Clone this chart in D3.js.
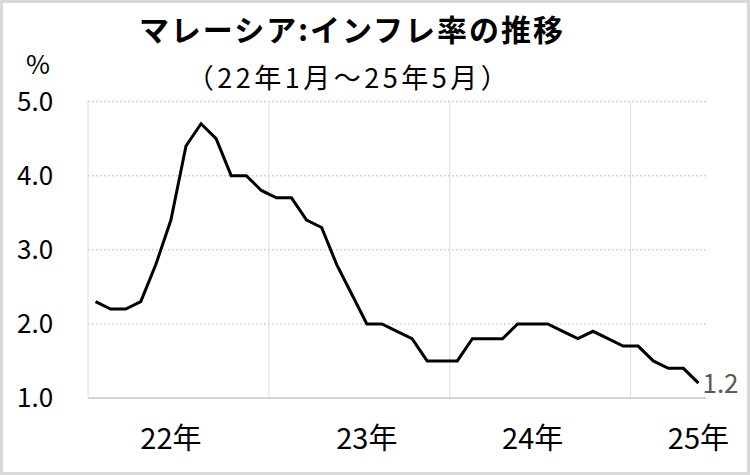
<!DOCTYPE html>
<html>
<head>
<meta charset="utf-8">
<script src="https://cdn.jsdelivr.net/npm/d3@7"></script>
<style>
  html, body { margin: 0; padding: 0; background: #fff; }
  svg { display: block; }
  text { font-family: "Noto Sans CJK JP", "Noto Sans", sans-serif; }
</style>
</head>
<body>
<svg id="chart" width="750" height="475"></svg>
<script>
// ---- Data ----
const months = [
  "2022-01","2022-02","2022-03","2022-04","2022-05","2022-06","2022-07","2022-08","2022-09","2022-10","2022-11","2022-12",
  "2023-01","2023-02","2023-03","2023-04","2023-05","2023-06","2023-07","2023-08","2023-09","2023-10","2023-11","2023-12",
  "2024-01","2024-02","2024-03","2024-04","2024-05","2024-06","2024-07","2024-08","2024-09","2024-10","2024-11","2024-12",
  "2025-01","2025-02","2025-03","2025-04","2025-05"
];
const inflation = [
  2.3,2.2,2.2,2.3,2.8,3.4,4.4,4.7,4.5,4.0,4.0,3.8,
  3.7,3.7,3.4,3.3,2.8,2.4,2.0,2.0,1.9,1.8,1.5,1.5,
  1.5,1.8,1.8,1.8,2.0,2.0,2.0,1.9,1.8,1.9,1.8,1.7,
  1.7,1.5,1.4,1.4,1.2
];
const yTicks = [1.0, 2.0, 3.0, 4.0, 5.0];
const yearBoundaries = ["2023-01","2024-01","2025-01"];
const yearLabelMonths = ["2022-06","2023-07","2024-06","2025-05"];
const yearLabels = ["22年","23年","24年","25年"];
const title = "マレーシア:インフレ率の推移";
const subtitle = "（22年1月～25年5月）";
const unitLabel = "%";

// ---- Layout ----
const W = 750, H = 475;
const plotLeft = 88, plotRight = 706, plotTop = 101.5, plotBottom = 398;

const svg = d3.select("#chart");

// outer frame
svg.append("rect").attr("x", 1.5).attr("y", 1.5).attr("width", W - 3).attr("height", H - 3)
  .attr("fill", "#fff").attr("stroke", "#d9d9d9").attr("stroke-width", 3);

const x = d3.scaleBand().domain(months).range([plotLeft, plotRight]).padding(0);
const y = d3.scaleLinear().domain([1, 5]).range([plotBottom, plotTop]);

// horizontal dotted gridlines
svg.append("g").selectAll("line").data(yTicks.filter(d => d > 1)).join("line")
  .attr("x1", plotLeft).attr("x2", plotRight)
  .attr("y1", d => y(d)).attr("y2", d => y(d))
  .attr("stroke", "#c8c8c8").attr("stroke-width", 1.5).attr("stroke-dasharray", "1.5,2.5");

// vertical gridlines at year boundaries
svg.append("g").selectAll("line").data(yearBoundaries).join("line")
  .attr("x1", d => x(d)).attr("x2", d => x(d))
  .attr("y1", plotTop).attr("y2", plotBottom)
  .attr("stroke", "#dcdcdc").attr("stroke-width", 1);

// left axis line
svg.append("line").attr("x1", plotLeft).attr("x2", plotLeft).attr("y1", plotTop).attr("y2", plotBottom)
  .attr("stroke", "#dcdcdc").attr("stroke-width", 1);

// bottom axis
svg.append("line").attr("x1", plotLeft).attr("x2", plotRight).attr("y1", plotBottom).attr("y2", plotBottom)
  .attr("stroke", "#d4d4d4").attr("stroke-width", 2);

// y tick labels
svg.append("g").selectAll("text").data(yTicks).join("text")
  .attr("x", 17).attr("y", d => y(d)).attr("dy", "0.36em")
  .attr("font-size", 26).attr("fill", "#000")
  .text(d => d.toFixed(1));

// unit
svg.append("text").attr("x", 38).attr("y", 74).attr("text-anchor", "middle")
  .attr("font-size", 26).attr("fill", "#000").text(unitLabel);

// year labels
svg.append("g").selectAll("text").data(yearLabelMonths).join("text")
  .attr("x", d => x(d) + x.bandwidth() / 2).attr("y", 449)
  .attr("text-anchor", "middle").attr("font-size", 29).attr("fill", "#000")
  .text((d, i) => yearLabels[i]);

// line
const line = d3.line()
  .x((d, i) => x(months[i]) + x.bandwidth() / 2)
  .y(d => y(d));
svg.append("path").datum(inflation)
  .attr("d", line).attr("fill", "none")
  .attr("stroke", "#000").attr("stroke-width", 3).attr("stroke-linejoin", "miter");

// last value label
const lastI = inflation.length - 1;
svg.append("text")
  .attr("x", x(months[lastI]) + x.bandwidth() / 2 + 4)
  .attr("y", y(inflation[lastI])).attr("dy", "0.36em")
  .attr("font-size", 26).attr("fill", "#595959")
  .text(inflation[lastI].toFixed(1));

// titles
svg.append("text").attr("x", 352).attr("y", 41).attr("text-anchor", "middle")
  .attr("font-size", 30).attr("font-weight", "bold").attr("letter-spacing", 2)
  .attr("fill", "#000").text(title);
svg.append("text").attr("x", 349).attr("y", 88).attr("text-anchor", "middle")
  .attr("font-size", 27).attr("letter-spacing", 3.5).attr("fill", "#000").text(subtitle);
</script>
</body>
</html>
